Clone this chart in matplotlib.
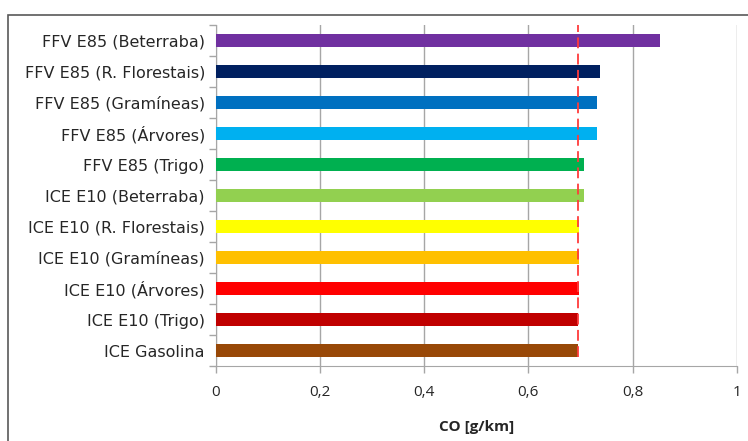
import numpy as np
import matplotlib.pyplot as plt
from matplotlib.patches import Rectangle

# categories listed from bottom to top
categories = ['ICE Gasolina', 'ICE E10 (Trigo)', 'ICE E10 (Árvores)', 'ICE E10 (Gramíneas)',
              'ICE E10 (R. Florestais)', 'ICE E10 (Beterraba)', 'FFV E85 (Trigo)',
              'FFV E85 (Árvores)', 'FFV E85 (Gramíneas)', 'FFV E85 (R. Florestais)',
              'FFV E85 (Beterraba)']
co_values = [0.696, 0.696, 0.697, 0.698, 0.698, 0.707, 0.707, 0.732, 0.732, 0.738, 0.852]
bar_colors = ['#984807', '#C00000', '#FF0000', '#FFC000', '#FFFF00', '#92D050',
              '#00B050', '#00B0F0', '#0070C0', '#002060', '#7030A0']
reference_co = 0.696
x_ticks = [0, 0.2, 0.4, 0.6, 0.8, 1.0]
x_tick_labels = ['0', '0,2', '0,4', '0,6', '0,8', '1']

plt.rcParams['font.family'] = ['Open Sans', 'DejaVu Sans']
text_color = '#262626'
grid_color = '#a6a6a6'

fig = plt.figure(figsize=(7.48, 4.41), dpi=100)
ax = fig.add_axes([0.2888, 0.170, 0.696, 0.773])

# outer chart border (cropped on right and bottom like the reference)
fig.patches.append(Rectangle((8 / 748, -0.05), 1.2, 0.966 + 0.05, transform=fig.transFigure,
                             fill=False, edgecolor='#595959', linewidth=1.2))

y = np.arange(len(categories))
ax.barh(y, co_values, height=0.43, color=bar_colors, zorder=3)

# gasoline reference line
ax.plot([reference_co, reference_co], [-0.22, len(categories) - 0.5], color='#FF3B3B',
        linestyle=(0, (6, 3)), linewidth=1.3, zorder=4)

ax.set_xlim(0, 1)
ax.set_ylim(-0.5, len(categories) - 0.5)
ax.set_xticks(x_ticks)
ax.set_xticklabels(x_tick_labels, fontsize=11, color=text_color)
ax.set_yticks(y)
ax.set_yticklabels(categories, fontsize=11.5, color=text_color, family='DejaVu Sans')
ax.set_yticks(np.arange(-0.5, len(categories)), minor=True)
ax.tick_params(axis='y', which='major', length=0, pad=8)
ax.tick_params(axis='y', which='minor', length=5, color=grid_color, width=1)
ax.tick_params(axis='x', length=5, color=grid_color, width=1, pad=9)

ax.grid(axis='x', color=grid_color, linewidth=1, zorder=0)
for side in ['top', 'right']:
    ax.spines[side].set_visible(False)
ax.spines['left'].set_color(grid_color)
ax.spines['bottom'].set_color(grid_color)

ax.set_xlabel('CO [g/km]', fontsize=11, fontweight='bold', color=text_color, labelpad=14)

fig.savefig('out.png', dpi=100)
